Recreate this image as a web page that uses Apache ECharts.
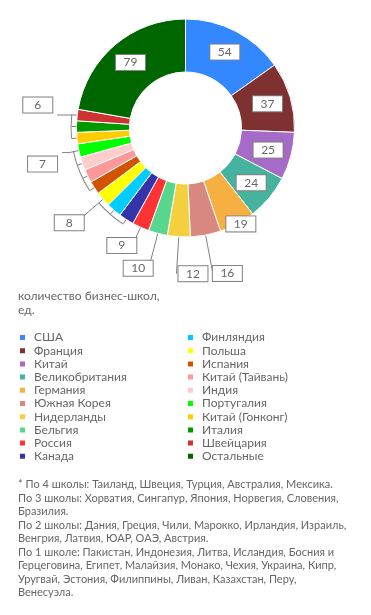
<!DOCTYPE html>
<html><head><meta charset="utf-8">
<script src="https://cdn.jsdelivr.net/npm/echarts@6/dist/echarts.min.js"></script>
<style>html,body{margin:0;padding:0;background:#fff}#c{width:371px;height:615px}</style>
</head><body><div id="c"></div>
<script>
const categories = ['США','Франция','Китай','Великобритания','Германия','Южная Корея','Нидерланды','Бельгия','Россия','Канада','Финляндия','Польша','Испания','Китай (Тайвань)','Индия','Португалия','Китай (Гонконг)','Италия','Швейцария','Остальные'];
const values = [54,37,25,24,19,16,12,10,9,8,8,8,7,7,7,7,6,6,6,79];
const colors = ['#3388ff','#7f3030','#a66bc6','#45b39d','#f5b041','#d98880','#f4d03f','#58d68d','#ff3333','#3333aa','#00ccff','#ffff00','#d35400','#ff9999','#ffcccc','#00ff00','#ffcc00','#009900','#cc3333','#006600'];
const titleText = 'количество бизнес-школ,\nед.';
const footnoteLines = [
  '* По 4 школы: Таиланд, Швеция, Турция, Австралия, Мексика.',
  'По 3 школы: Хорватия, Сингапур, Япония, Норвегия, Словения,',
  'Бразилия.',
  'По 2 школы: Дания, Греция, Чили, Марокко, Ирландия, Израиль,',
  'Венгрия, Латвия, ЮАР, ОАЭ, Австрия.',
  'По 1 школе: Пакистан, Индонезия, Литва, Исландия, Босния и',
  'Герцеговина, Египет, Малайзия, Монако, Чехия, Украина, Кипр,',
  'Уругвай, Эстония, Филиппины, Ливан, Казахстан, Перу,',
  'Венесуэла.'
];

const FONT = 'Lato';
const TXT = '#666';
const LINE = '#808080';

// find runs of equal consecutive values (grouped with brackets)
const runs = [];
for (let i = 0; i < values.length;) {
  let j = i;
  while (j + 1 < values.length && values[j + 1] === values[i]) j++;
  runs.push([i, j]);
  i = j + 1;
}
const runOf = i => runs.find(r => i >= r[0] && i <= r[1]);

// per-label layout tuning (label line lengths / offsets, not data)
const tune = {
  4:  {L: 0, L2: 0, d: -11, hide: true},
  5:  {L: 39, L2: 0, d: 0},
  6:  {L: 37, L2: 0, d: -31},
  7:  {L: 36, L2: 0, d: -4},
  8:  {L: 20, L2: 0, d: -4},
  11: {L: 36, L2: 0, d: -8},
  15: {L: 10, L2: 7, d: 5, pad: [23, 0, 0, 0]},
  18: {L: 0, L2: 20, d: 5, pad: [0, 0, 20, 0]}
};

const mainData = categories.map((name, i) => {
  const item = {name, value: values[i], itemStyle: {color: colors[i]}};
  const run = runOf(i);
  const grouped = run[1] > run[0];
  if (!grouped && values[i] >= 20) {
    item.label = {position: 'inside'};
    item.labelLine = {show: false};
  } else if (grouped && i !== run[1]) {
    item.label = {formatter: ' ', rich: {}, distanceToLabelLine: 0};
    item.labelLine = {length: 5, length2: 0};
  } else {
    const t = tune[i] || {L: 10, L2: 10, d: 5};
    item.label = {distanceToLabelLine: t.d, padding: t.pad || 0};
    item.labelLine = {show: !t.hide, length: t.L, length2: t.L2};
  }
  return item;
});

// bracket arcs: span from middle of first member to middle of last member
const bracketData = [];
runs.forEach(([a, b]) => {
  if (b === a) {
    bracketData.push({value: values[a], itemStyle: {color: 'rgba(0,0,0,0)'}});
  } else {
    let sum = 0;
    for (let k = a; k <= b; k++) sum += values[k];
    bracketData.push({value: values[a] / 2, itemStyle: {color: 'rgba(0,0,0,0)'}});
    bracketData.push({value: sum - values[a] / 2 - values[b] / 2, itemStyle: {color: LINE}});
    bracketData.push({value: values[b] / 2, itemStyle: {color: 'rgba(0,0,0,0)'}});
  }
});

const legendItem = {
  orient: 'vertical', top: 331, padding: 0, icon: 'rect', itemWidth: 7, itemHeight: 7, itemGap: 0.2,
  textStyle: {fontFamily: FONT, fontSize: 12, lineHeight: 13, color: TXT, padding: [0, 0, 0, 3]},
  selectedMode: false
};

const chart = echarts.init(document.getElementById('c'), null, {renderer: 'canvas'});
chart.setOption({
  animation: false,
  color: colors,
  textStyle: {fontFamily: FONT},
  title: [
    {text: titleText, left: 18, top: 289, padding: 0,
     textStyle: {fontFamily: FONT, fontSize: 12, lineHeight: 14, fontWeight: 'normal', color: TXT}},
    {text: footnoteLines.join('\n'), left: 18, top: 478, padding: 0,
     textStyle: {fontFamily: FONT, fontSize: 11, lineHeight: 13.5, fontWeight: 'normal', color: TXT}}
  ],
  legend: [
    Object.assign({left: 18, data: categories.slice(0, 10)}, legendItem),
    Object.assign({left: 186, data: categories.slice(10)}, legendItem)
  ],
  series: [
    {
      type: 'pie', center: ['50%', 128], radius: [56, 109], startAngle: 90, clockwise: true,
      avoidLabelOverlap: false, silent: true,
      itemStyle: {borderColor: '#fff', borderWidth: 1},
      label: {
        show: true, position: 'outside',
        formatter: p => '{v|' + p.value + '}',
        rich: {
          v: {width: 29, height: 15, lineHeight: 15, align: 'center', fontFamily: FONT, fontSize: 12,
              color: TXT, backgroundColor: '#fff', borderColor: LINE, borderWidth: 1}
        }
      },
      labelLine: {show: true, lineStyle: {color: LINE, width: 1}, smooth: false},
      data: mainData
    },
    {
      type: 'pie', center: ['50%', 128], radius: [114, 115], startAngle: 90, clockwise: true,
      silent: true, label: {show: false}, labelLine: {show: false},
      itemStyle: {borderWidth: 0},
      data: bracketData
    }
  ]
});
</script></body></html>
